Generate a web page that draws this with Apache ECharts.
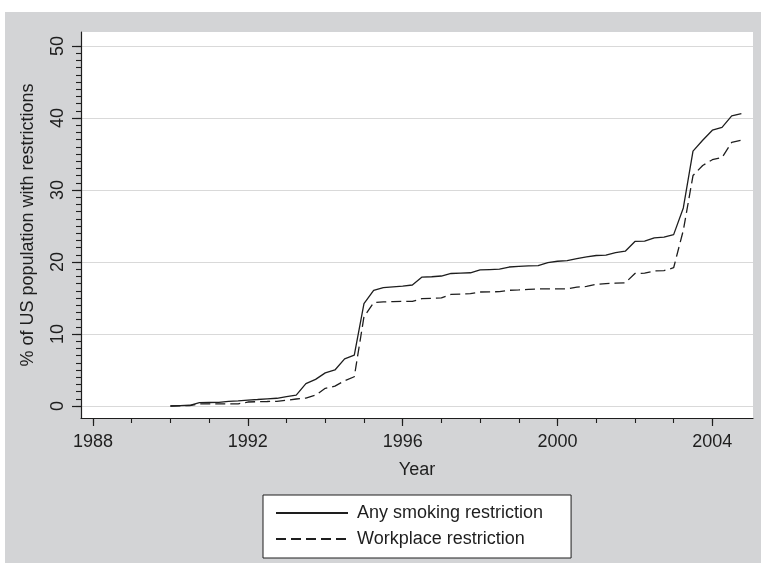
<!DOCTYPE html>
<html><head><meta charset="utf-8">
<script src="https://cdn.jsdelivr.net/npm/echarts@6/dist/echarts.min.js"></script>
<style>
html,body{margin:0;padding:0;background:#fff;}
#bg{position:absolute;left:5px;top:12px;width:756px;height:551px;background:#d3d4d6;}
#chart{position:absolute;left:0;top:0;width:761px;height:563px;}
</style></head><body><div id="bg"></div><div id="chart"></div>
<script>
const years = [
  1990.00,1990.25,1990.50,1990.75,1991.00,1991.25,1991.50,1991.75,
  1992.00,1992.25,1992.50,1992.75,1993.00,1993.25,1993.50,1993.75,
  1994.00,1994.25,1994.50,1994.75,1995.00,1995.25,1995.50,1995.75,
  1996.00,1996.25,1996.50,1996.75,1997.00,1997.25,1997.50,1997.75,
  1998.00,1998.25,1998.50,1998.75,1999.00,1999.25,1999.50,1999.75,
  2000.00,2000.25,2000.50,2000.75,2001.00,2001.25,2001.50,2001.75,
  2002.00,2002.25,2002.50,2002.75,2003.00,2003.25,2003.50,2003.75,
  2004.00,2004.25,2004.50,2004.75
];
const anyRestriction = [
  0.00,0.05,0.10,0.46,0.48,0.50,0.65,0.72,
  0.82,0.90,1.00,1.07,1.30,1.50,3.10,3.70,
  4.60,5.00,6.55,7.06,14.2,16.07,16.44,16.55,
  16.65,16.80,17.90,17.95,18.05,18.40,18.45,18.50,
  18.90,18.95,19.00,19.30,19.40,19.45,19.50,19.90,
  20.10,20.20,20.45,20.70,20.90,20.96,21.30,21.50,
  22.85,22.90,23.35,23.45,23.80,27.50,35.40,36.90,
  38.30,38.70,40.30,40.60
];
const workplaceRestriction = [
  0.00,0.02,0.05,0.28,0.28,0.28,0.30,0.30,
  0.55,0.60,0.62,0.65,0.80,0.97,1.10,1.50,
  2.45,2.75,3.50,4.06,12.4,14.36,14.45,14.50,
  14.52,14.54,14.90,14.95,15.00,15.50,15.55,15.60,
  15.83,15.85,15.87,16.07,16.12,16.20,16.25,16.25,
  16.25,16.25,16.50,16.60,16.90,17.00,17.05,17.10,
  18.40,18.45,18.75,18.80,19.20,24.40,32.00,33.40,
  34.20,34.50,36.60,36.90
];
const seriesNames = ['Any smoking restriction', 'Workplace restriction'];
const xMajorTicks = [1988, 1992, 1996, 2000, 2004];
const yMajorTicks = [0, 10, 20, 30, 40, 50];
const xMinorTicks = [];
for (let y = 1988; y <= 2004; y++) xMinorTicks.push(y);
const yMinorTicks = [];
for (let v = 0; v <= 50; v++) yMinorTicks.push(v);

const X_MIN = 1987.69, X_MAX = 2005.05;
const Y_MIN = -1.67, Y_MAX = 51.94;
const FONT = 'Liberation Sans, Arial, sans-serif';
const INK = '#1e1e1e';
const GRID_RECT = {left: 81, top: 32, width: 672, height: 386, outerBoundsMode: 'none'};

const chart = echarts.init(document.getElementById('chart'), null, {renderer: 'canvas'});
chart.setOption({
  backgroundColor: 'transparent',
  animation: false,
  textStyle: {fontFamily: FONT},
  grid: [
    Object.assign({show: true, backgroundColor: '#ffffff', borderWidth: 0}, GRID_RECT),
    Object.assign({show: false}, GRID_RECT)
  ],
  xAxis: [
    {
      gridIndex: 0, type: 'value', min: X_MIN, max: X_MAX, position: 'bottom',
      name: 'Year', nameLocation: 'middle', nameGap: 43,
      nameTextStyle: {fontSize: 18, color: INK, fontFamily: FONT},
      axisLine: {show: true, onZero: false, lineStyle: {color: INK, width: 1.2}},
      axisTick: {show: true, customValues: xMajorTicks, length: 8, lineStyle: {color: INK, width: 1.2}},
      axisLabel: {show: true, customValues: xMajorTicks, margin: 15, fontSize: 18, color: INK, fontFamily: FONT, formatter: v => String(Math.round(v))},
      splitLine: {show: false}
    },
    {
      gridIndex: 1, type: 'value', min: X_MIN, max: X_MAX, position: 'bottom',
      axisLine: {show: false, onZero: false},
      axisTick: {show: true, customValues: xMinorTicks, length: 5, lineStyle: {color: INK, width: 1.1}},
      axisLabel: {show: false},
      splitLine: {show: false}
    }
  ],
  yAxis: [
    {
      gridIndex: 0, type: 'value', min: Y_MIN, max: Y_MAX, position: 'left',
      name: '% of US population with restrictions', nameLocation: 'middle', nameGap: 44,
      nameTextStyle: {fontSize: 18, color: INK, fontFamily: FONT},
      axisLine: {show: true, onZero: false, lineStyle: {color: INK, width: 1.2}},
      axisTick: {show: true, customValues: yMajorTicks, length: 9, lineStyle: {color: INK, width: 1.2}},
      axisLabel: {show: true, customValues: yMajorTicks, rotate: 90, margin: 14, fontSize: 18, color: INK, fontFamily: FONT},
      splitLine: {show: true, customValues: yMajorTicks, lineStyle: {color: '#d9d9d9', width: 1.2}}
    },
    {
      gridIndex: 1, type: 'value', min: Y_MIN, max: Y_MAX, position: 'left',
      axisLine: {show: false, onZero: false},
      axisTick: {show: true, customValues: yMinorTicks, length: 5, lineStyle: {color: INK, width: 1.1}},
      axisLabel: {show: false},
      splitLine: {show: false}
    }
  ],
  legend: {
    orient: 'vertical', left: 263, top: 495,
    itemWidth: 72, itemHeight: 14, itemGap: 8,
    padding: [9, 28, 10, 12],
    backgroundColor: '#ffffff', borderColor: INK, borderWidth: 1, borderRadius: 0,
    itemStyle: {opacity: 0},
    textStyle: {fontSize: 18, color: INK, fontFamily: FONT, padding: [0, 0, 0, 4]},
    data: seriesNames
  },
  series: [
    {
      name: seriesNames[0], type: 'line', xAxisIndex: 0, yAxisIndex: 0,
      symbol: 'none', smooth: false,
      lineStyle: {color: INK, width: 1.3, type: 'solid'},
      itemStyle: {color: INK},
      data: years.map((x, i) => [x, anyRestriction[i]])
    },
    {
      name: seriesNames[1], type: 'line', xAxisIndex: 0, yAxisIndex: 0,
      symbol: 'none', smooth: false,
      lineStyle: {color: INK, width: 1.3, type: [10, 5]},
      itemStyle: {color: INK},
      data: years.map((x, i) => [x, workplaceRestriction[i]])
    }
  ]
});
</script>
</body></html>
